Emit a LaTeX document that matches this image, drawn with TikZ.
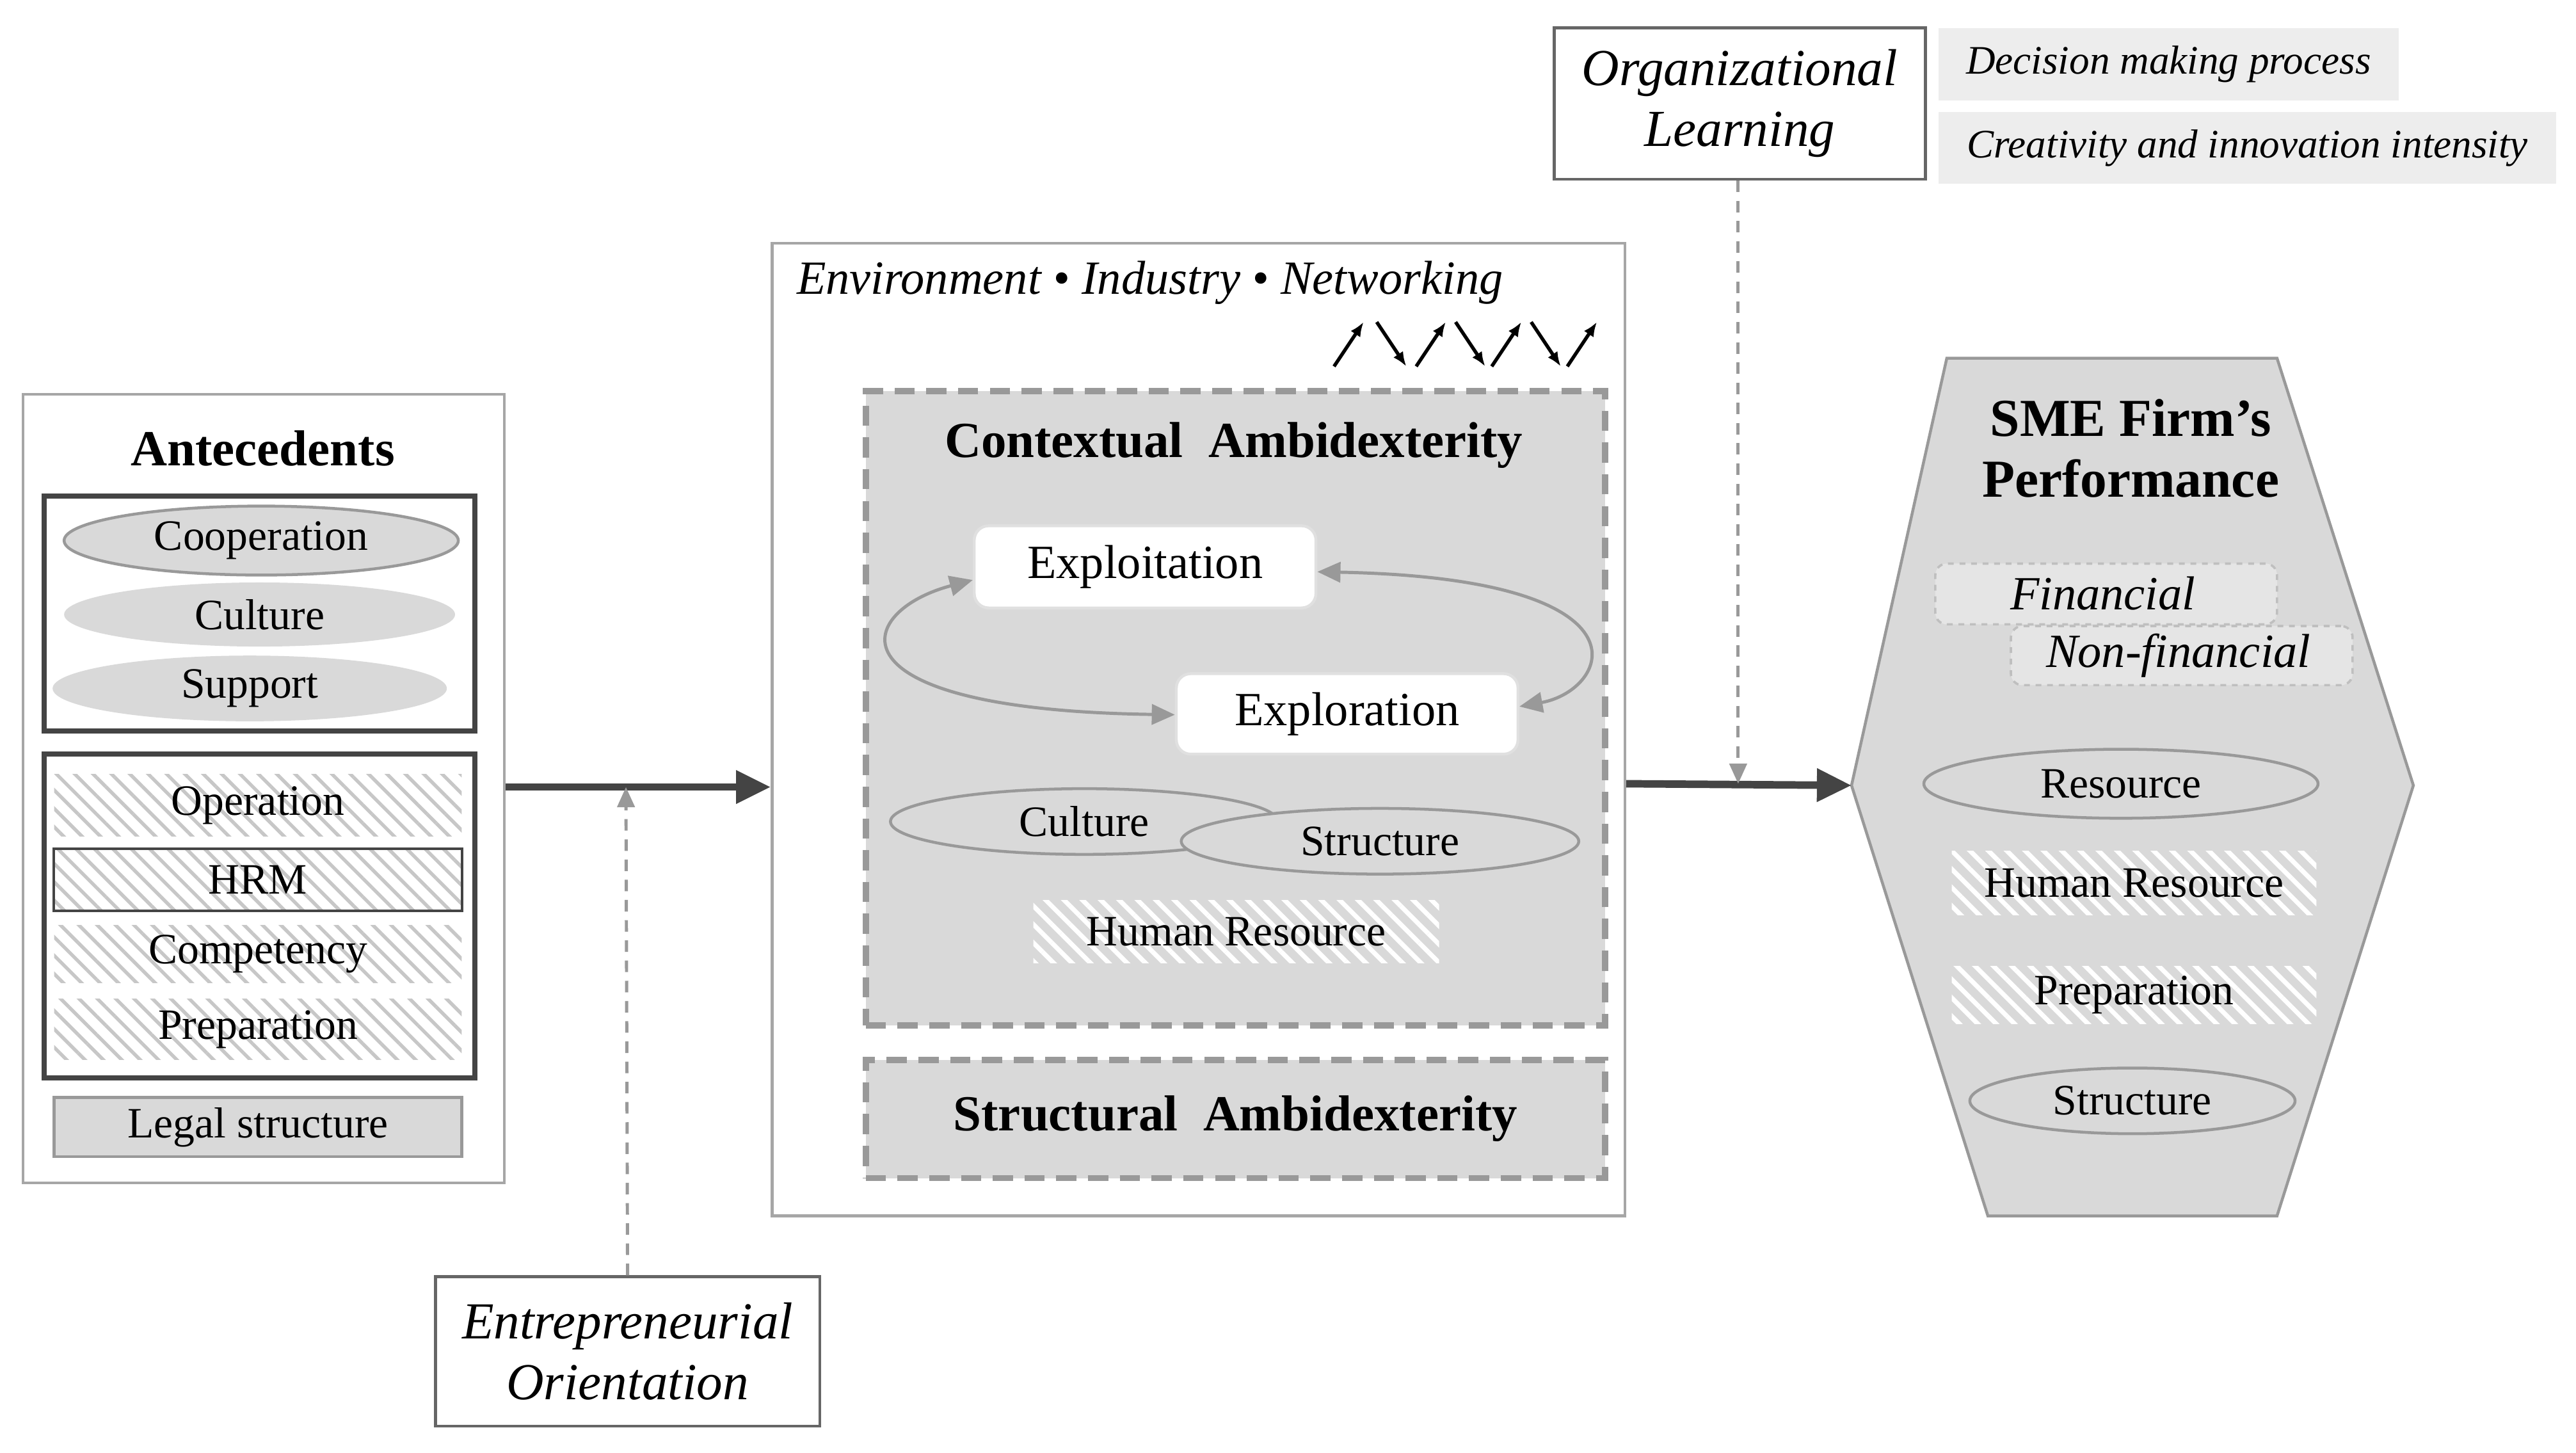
\documentclass[tikz,border=0pt]{standalone}
\usepackage{fontspec}
\setmainfont{Liberation Serif}
\usetikzlibrary{patterns.meta,fit,arrows.meta,shapes.geometric}
\definecolor{gfill}{HTML}{D9D9D9}
\definecolor{gline}{HTML}{999999}
\definecolor{dline}{HTML}{444444}
\begin{document}
\begin{tikzpicture}[x=0.02cm,y=-0.02cm,
  fr/.style={fit={#1},inner sep=0pt,draw,rectangle},
  lbl/.style={font=\fontsize{15}{17}\selectfont},
  ttl/.style={font=\fontsize{17.5}{20}\selectfont\bfseries},
  itl/.style={font=\fontsize{18}{21}\selectfont\itshape,align=center},
  hatchW/.style={postaction={pattern={Lines[angle=135,distance=4.5pt,line width=1.6pt]},pattern color=white}},
  hatchG/.style={fill=white,postaction={pattern={Lines[angle=135,distance=4.5pt,line width=1.2pt]},pattern color=black!22}},
  ell/.style={ellipse,inner sep=0pt,fill=gfill},
  bigarrow/.style={line width=2.6pt,dline,-{Triangle[length=12pt,width=11pt]}},
  dasharr/.style={gline,line width=1.1pt,dash pattern=on 4pt off 3pt,-{Triangle[length=7pt,width=6pt]}},
  loop/.style={gline,line width=1.1pt,{Triangle[length=8pt,width=7pt]}-{Triangle[length=8pt,width=7pt]}},
]
\useasboundingbox (0,0) rectangle (1568,884);
% ---------- Antecedents
\node[fr={(14,240)(307,720)},draw=black!35,line width=1pt] (ante) {};
\node[ttl] (antet) at (160,273) {Antecedents};
\node[fr={(27,302)(289,445)},draw=dline,line width=1.8pt] (g1) {};
\node[ell,draw=gline,line width=1pt,minimum width=4.8cm,minimum height=0.84cm,lbl] (coop) at (159,329) {Cooperation};
\node[ell,minimum width=4.76cm,minimum height=0.78cm,lbl] (cult) at (158,374) {Culture};
\node[ell,minimum width=4.8cm,minimum height=0.8cm,lbl] (supp) at (152,419) {Support};
\node[fr={(27,459)(289,656)},draw=dline,line width=1.8pt] (g2) {};
\node[fr={(33,471)(281,509)},draw=none,hatchG] (op) {};
\node[lbl] at (op.center) {Operation};
\node[fr={(33,517)(281,554)},draw=none,hatchG] (hrm) {};
\draw[dline,line width=1pt] (hrm.north west) rectangle (hrm.south east);
\node[lbl] at (hrm.center) {HRM};
\node[fr={(33,563)(281,598)},draw=none,hatchG] (comp) {};
\node[lbl] at (comp.center) {Competency};
\node[fr={(33,608)(281,645)},draw=none,hatchG] (prep) {};
\node[lbl] at (prep.center) {Preparation};
\node[fr={(33,668)(281,704)},draw=gline,line width=1pt,fill=gfill] (legal) {};
\node[lbl] at (legal.center) {Legal structure};
% ---------- EO
\node[fr={(265,777)(499,868)},draw=black!60,line width=1pt] (eo) {};
\node[itl] at (eo.center) {Entrepreneurial\\Orientation};
% ---------- middle
\node[fr={(470,148)(989,740)},draw=black!35,line width=1pt] (mid) {};
\node[font=\fontsize{16.5}{19}\selectfont\itshape] (env) at (700,172) {Environment • Industry • Networking};
\foreach \a/\b in {812/830,862/880,908/926,954/972}
  \draw[line width=1.2pt,-{Latex[length=5pt,width=4pt]}] (\a,223) -- (\b,196);
\foreach \a/\b in {838/856,886/904,932/950}
  \draw[line width=1.2pt,-{Latex[length=5pt,width=4pt]}] (\a,196) -- (\b,223);
\node[fr={(527,238)(977,624)},draw=gline,fill=gfill,line width=2.2pt,dash pattern=on 7pt off 4pt] (ctx) {};
\node[ttl] at (751,271) {Contextual\ \ Ambidexterity};
\node[fr={(593,320)(801,370)},draw=black!12,fill=white,rounded corners=5pt,line width=1pt] (expt) {};
\node[font=\fontsize{16.5}{19}\selectfont] at (expt.center) {Exploitation};
\node[fr={(716,410)(924,459)},draw=black!12,fill=white,rounded corners=5pt,line width=1pt] (expr) {};
\node[font=\fontsize{16.5}{19}\selectfont] at (expr.center) {Exploration};
\draw[loop] (expt.west|-0,353) .. controls (520,372) and (500,432) .. (expr.west|-0,435);
\draw[loop] (expt.east|-0,348) .. controls (1010,352) and (980,420) .. (expr.east|-0,430);
\node[ellipse,draw=gline,line width=1pt,inner sep=0pt,minimum width=4.72cm,minimum height=0.8cm] (cul2) at (660,500) {};
\node[ellipse,draw=gline,fill=gfill,line width=1pt,inner sep=0pt,minimum width=4.84cm,minimum height=0.8cm] (str2) at (840,512) {};
\node[lbl] at (660,500) {Culture};
\node[lbl] at (840,512) {Structure};
\node[fr={(629,548)(876,586)},draw=none,fill=gfill,hatchW] (hr2) {};
\node[lbl] at (hr2.center) {Human Resource};
\node[fr={(527,645)(977,717)},draw=gline,fill=gfill,line width=2.2pt,dash pattern=on 7pt off 4pt] (stc) {};
\node[ttl] at (stc.center) {Structural\ \ Ambidexterity};
% ---------- OL
\node[fr={(946,17)(1172,109)},draw=black!60,line width=1pt] (ol) {};
\node[itl] at (ol.center) {Organizational\\Learning};
\node[fr={(1180,17)(1460,61)},draw=none,fill=black!7] (dm) {};
\node[font=\fontsize{14}{16}\selectfont\itshape] at (dm.center) {Decision making process};
\node[fr={(1180,68)(1556,112)},draw=none,fill=black!7] (ci) {};
\node[font=\fontsize{14}{16}\selectfont\itshape] at (ci.center) {Creativity and innovation intensity};
% ---------- hexagon
\draw[gline,fill=gfill,line width=1pt] (1127,478) -- (1185,218) -- (1386,218) -- (1469,478) -- (1386,740) -- (1210,740) -- cycle;
\coordinate (hexw) at (1127,478);
\node[font=\fontsize{18.5}{21}\selectfont\bfseries,align=center] (sme) at (1297,273) {SME Firm’s\\Performance};
\node[fr={(1178,343)(1386,380)},draw=black!25,fill=black!10,rounded corners=4pt,dash pattern=on 2pt off 2pt,line width=0.8pt] (fin) {};
\node[font=\fontsize{16.5}{19}\selectfont\itshape] at (1280,361) {Financial};
\node[fr={(1224,381)(1432,417)},draw=black!25,fill=black!10,rounded corners=4pt,dash pattern=on 2pt off 2pt,line width=0.8pt] (nfin) {};
\node[font=\fontsize{16.5}{19}\selectfont\itshape] at (1326,399) {Non-financial};
\node[ell,draw=gline,line width=1pt,minimum width=4.8cm,minimum height=0.84cm,lbl] (res) at (1291,477) {Resource};
\node[fr={(1188,518)(1410,557)},draw=none,fill=gfill,hatchW] (hr3) {};
\node[lbl] at (hr3.center) {Human Resource};
\node[fr={(1188,588)(1410,623)},draw=none,fill=gfill,hatchW] (pr3) {};
\node[lbl] at (pr3.center) {Preparation};
\node[ell,draw=gline,line width=1pt,minimum width=3.96cm,minimum height=0.8cm,lbl] (st3) at (1298,670) {Structure};
% ---------- connectors
\coordinate (m1) at (381,479);
\coordinate (m2) at (1058,477);
\draw[bigarrow] (ante.east|-m1) -- (mid.west|-m1);
\draw[bigarrow] (mid.east|-m2) -- (hexw);
\draw[dasharr] (eo.north) -- (m1);
\draw[dasharr] (ol.south-|m2) -- (m2);
\end{tikzpicture}
\end{document}
